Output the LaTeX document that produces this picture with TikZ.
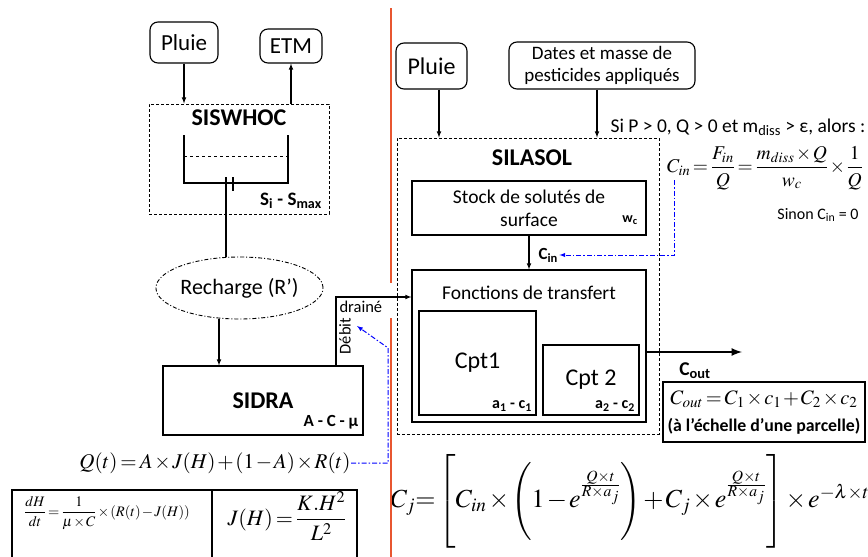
\documentclass[tikz,border=0pt]{standalone}
\usepackage{amsmath}
\usepackage{mathptmx}
\usepackage[no-math]{fontspec}
\setmainfont{Carlito}
\usetikzlibrary{positioning,shapes.geometric}
\newcommand{\fsz}[2]{\fontsize{#1}{#2}\selectfont}
\newcommand{\tightmath}{\medmuskip=1.5mu\thickmuskip=2.5mu}
\definecolor{sepred}{RGB}{232,86,48}

\begin{document}
\begin{tikzpicture}[x=1pt, y=-1pt, >=latex, line width=1.1pt, font=\fsz{19.5}{23}]
    % Styles
    \tikzstyle{input} = [draw, rounded corners=8pt, align=center, inner sep=0pt]
    \tikzstyle{block} = [draw, rectangle, align=center, inner sep=0pt]
    \tikzstyle{model} = [draw, rectangle, densely dashed, line width=1pt]
    \tikzstyle{modname} = [font=\bfseries\fsz{24}{28}]
    \tikzstyle{param} = [font=\bfseries\fsz{16}{18}, inner sep=1pt]
    \tikzstyle{recharge} = [draw, ellipse, dash pattern=on 4pt off 2pt on 1pt off 2pt, line width=0.9pt, inner sep=0pt]
    \tikzstyle{flux} = [blue, dash pattern=on 5pt off 2pt on 1.5pt off 2pt, line width=1pt]
    \tikzstyle{eq} = [inner sep=0pt, execute at begin node=\tightmath]
    \tikzstyle{sep} = [sepred, line width=1.2pt]

    \useasboundingbox (0,0) rectangle (868,557);

    % Nodes - SISWHOC / SIDRA
    \node [input, minimum width=68pt, minimum height=41pt, font=\fsz{23}{26}] (pluieG) at (184,42.5) {Pluie};
    \node [input, minimum width=62pt, minimum height=34pt, font=\fsz{23}{26}] (etm) at (291,46) {ETM};
    \node [model, minimum width=180pt, minimum height=110pt] (siswhoc) at (239,159) {};
    \node [modname] (siswhocname) at (239,118) {SISWHOC};
    \node [param, font=\bfseries\fsz{19}{20}] (smax) at (291,201) {S\textsubscript{i} - S\textsubscript{max}};
    \node [recharge, minimum width=167pt, minimum height=62pt, font=\fsz{22}{26}] (recharge) at (239.5,288) {Recharge (R’)};
    \node [block, minimum width=200pt, minimum height=69pt, font=\bfseries\fsz{24}{28}] (sidra) at (263,400.5) {SIDRA};
    \node [param, font=\bfseries\fsz{17}{18}] (acmu) at (331,422) {A - C - μ};

    % Nodes - SILASOL
    \node [input, minimum width=71pt, minimum height=46pt, font=\fsz{24}{26}] (pluieD) at (431.5,66) {Pluie};
    \node [input, minimum width=186pt, minimum height=47pt, font=\fsz{19}{22}] (dates) at (602,65.5) {Dates et masse de\\pesticides appliqués};
    \node [model, minimum width=262pt, minimum height=296pt] (silasol) at (528,286) {};
    \node [modname] (silasolname) at (532,158) {SILASOL};
    \node [block, minimum width=234pt, minimum height=54pt] (stock) at (529,208) {Stock de solutés de\\surface};
    \node [param, font=\bfseries\fsz{14}{16}] (wc) at (630,220) {w\textsubscript{c}};
    \node [block, minimum width=234pt, minimum height=152pt] (fonctions) at (529,346) {};
    \node (fonctionsname) at (529,293) {Fonctions de transfert};
    \node [block, minimum width=117pt, minimum height=104pt, font=\fsz{24}{28}] (cpt1) at (477.5,363) {Cpt1};
    \node [param] (a1c1) at (512,406) {a\textsubscript{1} - c\textsubscript{1}};
    \node [block, minimum width=96pt, minimum height=70pt, font=\fsz{24}{28}] (cpt2) at (591,380) {Cpt 2};
    \node [param] (a2c2) at (615,406) {a\textsubscript{2} - c\textsubscript{2}};
    \node [block, minimum width=202pt, minimum height=60pt] (coutbox) at (764,412) {};

    % Labels
    \node [anchor=west, inner sep=1pt, font=\bfseries\fsz{17}{20}] (cinlbl) at (537,255) {C\textsubscript{in}};
    \node [font=\bfseries\fsz{19.5}{22}] (coutlbl) at (695,371) {C\textsubscript{out}};
    \node [anchor=north west, inner sep=1pt, font=\fsz{16.5}{18}] (draine) at (338,299) {drainé};
    \node [rotate=90, inner sep=1pt, font=\fsz{16.5}{18}] (debitlbl) at (345,336) {Débit};
    \node [anchor=east, inner sep=0pt, font=\fsz{19.5}{22}] (cond) at (866,127) {Si P > 0, Q > 0 et m\textsubscript{diss} > ε, alors :};
    \node [font=\fsz{16}{18}] (sinon) at (818,215) {Sinon C\textsubscript{in} = 0};
    \node [font=\bfseries\fsz{17.8}{20}, inner sep=1pt] (echelle) at (764,426) {(à l’échelle d’une parcelle)};

    % Equations
    \node [eq, font=\fsz{19.5}{24}] (cineq) at (765,168) {$C_{in}=\dfrac{F_{in}}{Q}=\dfrac{m_{diss}\times Q}{w_c}\times\dfrac{1}{Q}$};
    \node [eq, font=\fsz{20.5}{24}] (couteq) at (764,399) {$C_{out}=C_1\times c_1+C_2\times c_2$};
    \node [eq, font=\fsz{21}{24}] (qt) at (215,463) {$Q(t)=A\times J(H)+(1-A)\times R(t)$};
    \node [eq, font=\fsz{14.5}{16}] (dhdt) at (107,513) {$\dfrac{dH}{dt}=\dfrac{1}{\mu\times C}\times(R(t)-J(H))$};
    \node [eq, font=\fsz{22}{26}] (jh) at (287,516) {$J(H)=\dfrac{K.H^2}{L^2}$};
    \node [eq, font=\fsz{26}{30}] (cj) at (630,501) {$C_j{=}\left[\rule[-36pt]{0pt}{78pt}C_{in}\times\left(\rule[-28pt]{0pt}{62pt}1-e^{\frac{Q\times t}{R\times a_j}}\right)+C_j\times e^{\frac{Q\times t}{R\times a_j}}\right]\times e^{-\lambda\times t}$};

    % Shapes
    \draw (184,135) |- (288,183) -- (288,135);
    \draw [dashed, line width=0.8pt] (184,156) -- (288,156);
    \draw (226,177) -- (226,191) (233,177) -- (233,191);
    \draw (12,557) |- (357,490) -- (357,557);
    \draw (212,490) -- (212,557);
    \draw [sep] (391,8) -- (391,283);
    \draw [sep] (391,318) -- (391,557);

    % Connections
    \coordinate (vanne) at (226,191);
    \coordinate (debit) at (336,297);
    \coordinate (debitpt) at (357,326);
    \coordinate (cinsrc) at (674,180);
    \coordinate (coutend) at (742,352);
    \draw [->] (pluieG) -- (pluieG |- siswhoc.north);
    \draw [->] (siswhoc.north -| etm) -- (etm);
    \draw (vanne) -- (vanne |- recharge.north);
    \draw [->] ([xshift=-20.5pt]recharge.south) -- ([xshift=-20.5pt]recharge.south |- sidra.north);
    \draw [->] (debit |- sidra.north) -- (debit) -- (debit -| fonctions.west);
    \draw [->] ([xshift=7.5pt]pluieD.south) -- ([xshift=7.5pt]pluieD.south |- silasol.north);
    \draw [->] ([xshift=-5pt]dates.south) -- ([xshift=-5pt]dates.south |- silasol.north);
    \draw [->] (stock) -- (fonctions);
    \draw [->, line width=2.5pt] (coutend -| fonctions.east) -- (coutend);
    \draw [flux, ->] (cinsrc) |- (cinlbl.east);
    \draw [flux, ->] (qt.east) -- ++(37,0) -- ++(0,-115) -- (debitpt);
\end{tikzpicture}
\end{document}
